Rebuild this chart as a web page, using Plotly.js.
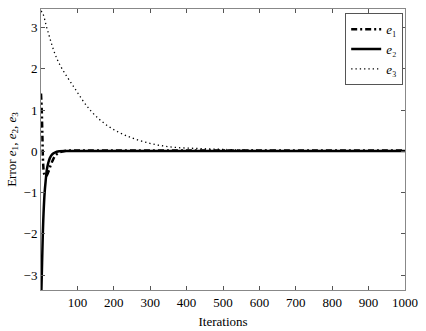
<!DOCTYPE html>
<html>
<head>
<meta charset="utf-8">
<script src="https://cdn.plot.ly/plotly-3.0.1.min.js"></script>
<style>html,body{margin:0;padding:0;background:#fff;}#chart{width:426px;height:331px;}</style>
</head>
<body>
<div id="chart"></div>
<script>
// e1 (dash-dot)
const e1X = [0, 2, 4, 6, 9, 14, 20, 26, 32, 40, 50, 65, 80, 120, 1000];
const e1Y = [1.4, 1.0, 0.3, -0.3, -0.55, -0.6, -0.5, -0.35, -0.22, -0.1, -0.03, 0.01, 0.02, 0.02, 0.02];
// e2 (solid)
const e2X = [1, 3, 5, 7, 10, 13, 16, 20, 24, 30, 38, 50, 80, 1000];
const e2Y = [-3.4, -2.7, -2.0, -1.5, -1.0, -0.7, -0.45, -0.28, -0.17, -0.08, -0.03, 0.0, 0.01, 0.01];
// e3 (dotted)
const e3X = [0, 5, 18, 46, 91, 137, 183, 237, 301, 364, 429, 493, 560, 650, 800, 1000];
const e3Y = [3.4, 3.34, 2.93, 2.2, 1.55, 0.98, 0.62, 0.37, 0.19, 0.1, 0.07, 0.05, 0.03, 0.02, 0.01, 0.01];
const xTicks = [100, 200, 300, 400, 500, 600, 700, 800, 900, 1000];
const yTicks = [-3, -2, -1, 0, 1, 2, 3];
const seriesNames = ['<i>e</i>\u2081', '<i>e</i>\u2082', '<i>e</i>\u2083'];

const FAM = '"Liberation Serif", serif';
const font = {family: FAM, size: 13, color: '#000000'};
const traces = [
  {x: e1X, y: e1Y, mode: 'lines', name: seriesNames[0], line: {color: '#000', width: 2.5, dash: '6px,3px,2px,3px', shape: 'spline'}},
  {x: e2X, y: e2Y, mode: 'lines', name: seriesNames[1], line: {color: '#000', width: 2.5, shape: 'spline'}},
  {x: e3X, y: e3Y, mode: 'lines', name: seriesNames[2], line: {color: '#000', width: 1.3, dash: '1.3px,3px', shape: 'spline'}}
];
const axisCommon = {showgrid: false, zeroline: false, showline: true, linecolor: '#888', linewidth: 1, mirror: 'ticks', ticks: 'inside', ticklen: 4, tickcolor: '#555', tickfont: font};
const layout = {
  width: 426, height: 331,
  margin: {l: 41, r: 21, t: 9, b: 41},
  paper_bgcolor: '#fff', plot_bgcolor: '#fff',
  font: font,
  showlegend: true,
  legend: {x: 0.995, y: 0.985, xanchor: 'right', yanchor: 'top', bordercolor: '#555', borderwidth: 1, bgcolor: '#fff', font: {family: FAM, size: 13, color: '#000'}, tracegroupgap: 0, itemwidth: 30},
  xaxis: Object.assign({}, axisCommon, {range: [0, 1000], tickvals: xTicks, ticktext: xTicks.map(String), title: {text: 'Iterations', font: font, standoff: 8}}),
  yaxis: Object.assign({}, axisCommon, {range: [-3.36, 3.45], tickvals: yTicks, ticktext: yTicks.map(v => v < 0 ? '\u2212' + Math.abs(v) : String(v)), title: {text: 'Error <i>e</i><sub>1</sub>, <i>e</i><sub>2</sub>, <i>e</i><sub>3</sub>', font: font, standoff: 4}})
};
Plotly.newPlot('chart', traces, layout, {displayModeBar: false, staticPlot: true});
</script>
</body>
</html>
